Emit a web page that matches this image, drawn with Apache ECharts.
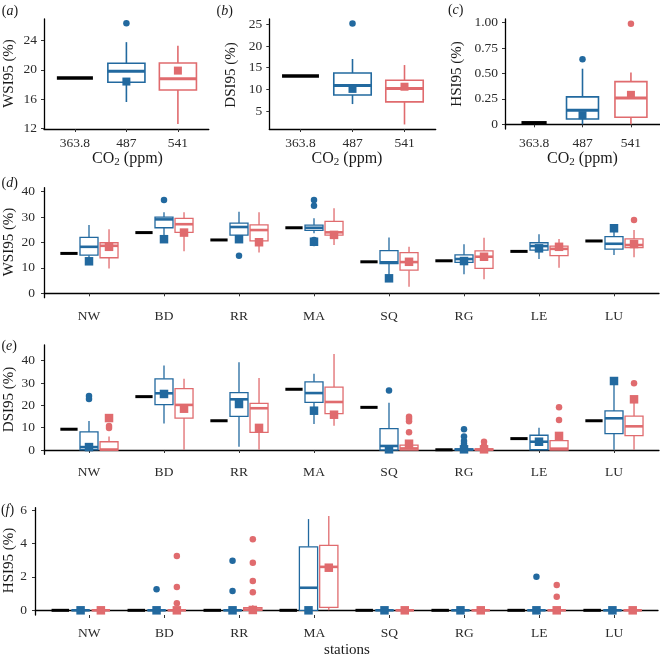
<!DOCTYPE html>
<html><head><meta charset="utf-8">
<script src="https://cdn.jsdelivr.net/npm/echarts@6/dist/echarts.min.js"></script>
<style>html,body{margin:0;padding:0;background:#fff}#c{width:660px;height:658px}</style>
</head><body><div id="c"></div>
<script>
const FONT = 'Liberation Serif';
const BLUE = '#22699f';
const RED = '#e06b6e';
const TXT = '#2b2b2b';

const stations = ['NW','BD','RR','MA','SQ','RG','LE','LU'];
const co2Labels = ['363.8','487','541'];

// ---- Panel (a) WSI95 vs CO2 : box = [lowWhisker, Q1, median, Q3, highWhisker]
const aBase = 18.9;
const aBlueBox = [15.6, 18.3, 19.8, 20.9, 23.8];
const aBlueMean = 18.4;
const aBlueOut = [26.4];
const aRedBox = [12.6, 17.25, 18.8, 20.95, 23.3];
const aRedMean = 19.9;
const aRedOut = [];

// ---- Panel (b) DSI95 vs CO2
const bBase = 13.1;
const bBlueBox = [6.6, 8.7, 10.9, 13.75, 17.0];
const bBlueMean = 10.1;
const bBlueOut = [25.2];
const bRedBox = [1.9, 7.1, 10.2, 12.1, 15.6];
const bRedMean = 10.6;
const bRedOut = [];

// ---- Panel (c) HSI95 vs CO2
const cBase = 0.015;
const cBlueBox = [0, 0.052, 0.138, 0.27, 0.547];
const cBlueMean = 0.09;
const cBlueOut = [0.639];
const cRedBox = [0, 0.07, 0.26, 0.42, 0.51];
const cRedMean = 0.29;
const cRedOut = [0.99];

// ---- Panel (d) WSI95 by station
const dBase = [15.7, 23.9, 21.0, 25.8, 12.4, 12.8, 16.5, 20.6];
const dBlueBox = [[12.5,15.0,18.3,22.0,26.9],[21.5,25.8,29.1,30.0,31.9],[20.5,22.9,26.1,27.6,32.1],[23.6,24.8,25.8,26.8,29.5],
                  [6.0,11.7,12.2,16.8,22.0],[7.5,12.2,13.5,15.1,19.3],[13.5,17.0,18.6,19.9,23.2],[15.1,17.4,19.5,22.3,24.5]];
const dBlueMean = [12.6, 21.3, 21.3, 20.3, 5.9, 12.7, 17.7, 25.6];
const dBlueOut = [[],[36.7],[14.8],[36.7,34.5,21.0,19.8],[],[],[],[]];
const dRedBox = [[9.8,14.0,18.7,19.9,25.2],[16.6,24.0,27.2,29.5,31.9],[16.1,20.6,24.9,26.9,31.9],[19.0,22.9,24.0,28.3,33.5],
                 [2.6,9.1,12.3,16.0,18.3],[5.5,9.8,14.4,16.7,21.9],[10.1,14.8,17.5,18.6,21.4],[14.2,18.0,19.0,21.4,24.9]];
const dRedMean = [18.3, 23.9, 20.1, 23.0, 12.4, 14.4, 18.3, 19.4];
const dRedOut = [[],[],[],[],[],[],[],[28.9]];

// ---- Panel (e) DSI95 by station
const eBase = [9.3, 23.9, 13.1, 27.2, 19.1, 0.1, 5.1, 13.1];
const eBlueBox = [[0,0.1,1.3,8.1,13.0],[11.9,20.3,25.4,31.9,37.8],[1.5,15.1,22.7,25.7,39.3],[11.6,21.3,25.5,30.5,34.2],
                  [0,0,1.8,9.6,21.2],[0,0,0.2,0.5,1.0],[0,0.1,3.7,6.6,10.0],[0.1,7.3,14.2,17.5,30.5]];
const eBlueMean = [1.3, 25.1, 20.6, 17.6, 0.3, 0.3, 3.7, 30.9];
const eBlueOut = [[24.2,22.8],[],[],[],[26.6],[9.3,6.0,4.0,2.8,1.8],[],[]];
const eRedBox = [[0,0,0.2,3.7,6.0],[0.1,14.3,20.2,27.5,31.9],[0.1,7.9,18.7,20.9,32.2],[10.9,16.3,21.5,28.2,43.0],
                 [0,0,0.7,2.2,4.5],[0,0,0.2,0.5,1.0],[0,0,0.6,4.2,8.0],[0.1,6.4,10.6,15.2,23.0]];
const eRedMean = [14.3, 18.5, 9.9, 15.8, 2.8, 0.3, 6.3, 22.7];
const eRedOut = [[10.7,9.9],[],[],[],[14.9,14.0,12.9,7.9],[3.7,1.8],[19.1,13.4],[29.9]];

// ---- Panel (f) HSI95 by station
const fBase = [0, 0, 0, 0, 0, 0, 0, 0];
const fBlueBox = [[0,0,0,0,0],[0,0,0,0,0],[0,0,0,0,0],[0,0,1.35,3.8,5.46],
                  [0,0,0,0,0],[0,0,0,0,0],[0,0,0,0,0],[0,0,0,0,0]];
const fBlueMean = [0, 0, 0, 0, 0, 0, 0, 0];
const fBlueOut = [[],[1.26],[2.97,1.15],[],[],[],[2.01],[]];
const fRedBox = [[0,0,0,0,0],[0,0,0,0,0],[0,0,0.05,0.16,0.3],[0,0.18,2.6,3.89,5.64],
                 [0,0,0,0,0],[0,0,0,0,0],[0,0,0,0,0],[0,0,0,0,0]];
const fRedMean = [0, 0, 0.02, 2.55, 0, 0, 0, 0];
const fRedOut = [[],[3.25,1.39,0.42],[4.25,2.85,1.75,1.08],[],[],[],[1.51,0.81],[]];

// ---------- renderers ----------
function boxRender(width, color, lw, mlw) {
  return function (params, api) {
    const x = api.value(0);
    const lo = api.coord([x, api.value(1)]);
    const q1 = api.coord([x, api.value(2)]);
    const md = api.coord([x, api.value(3)]);
    const q3 = api.coord([x, api.value(4)]);
    const hi = api.coord([x, api.value(5)]);
    const half = api.size([width, 0])[0] / 2;
    const cx = lo[0];
    return { type: 'group', children: [
      { type: 'line', shape: { x1: cx, y1: hi[1], x2: cx, y2: q3[1] }, style: { stroke: color, lineWidth: lw } },
      { type: 'line', shape: { x1: cx, y1: q1[1], x2: cx, y2: lo[1] }, style: { stroke: color, lineWidth: lw } },
      { type: 'rect', shape: { x: cx - half, y: q3[1], width: 2 * half, height: q1[1] - q3[1] }, style: { fill: '#fff', stroke: color, lineWidth: lw } },
      { type: 'line', shape: { x1: cx - half, y1: md[1], x2: cx + half, y2: md[1] }, style: { stroke: color, lineWidth: mlw } }
    ]};
  };
}
function baseRender(width, lw) {
  return function (params, api) {
    const c = api.coord([api.value(0), api.value(1)]);
    const half = api.size([width, 0])[0] / 2;
    return { type: 'line', shape: { x1: c[0] - half, y1: c[1], x2: c[0] + half, y2: c[1] }, style: { stroke: '#000', lineWidth: lw } };
  };
}

function panelSeries(gi, xs, base, blueBox, blueMean, blueOut, redBox, redMean, redOut, opt) {
  const series = [];
  const ax = { xAxisIndex: gi, yAxisIndex: gi, silent: true, animation: false };
  series.push(Object.assign({ type: 'custom', renderItem: baseRender(opt.baseW, opt.baseLw),
    data: base.map((v, i) => [xs.base[i], v]), encode: { x: 0, y: 1 } }, ax));
  series.push(Object.assign({ type: 'custom', renderItem: boxRender(opt.boxW, BLUE, opt.lw, opt.mlw),
    data: blueBox.map((b, i) => [xs.blue[i]].concat(b)), encode: { x: 0, y: [1,2,3,4,5] } }, ax));
  series.push(Object.assign({ type: 'custom', renderItem: boxRender(opt.boxW, RED, opt.lw, opt.mlw),
    data: redBox.map((b, i) => [xs.red[i]].concat(b)), encode: { x: 0, y: [1,2,3,4,5] } }, ax));
  const bo = [], ro = [];
  blueOut.forEach((arr, i) => arr.forEach(v => bo.push([xs.blue[i], v])));
  redOut.forEach((arr, i) => arr.forEach(v => ro.push([xs.red[i], v])));
  series.push(Object.assign({ type: 'scatter', symbol: 'circle', symbolSize: opt.outS, itemStyle: { color: BLUE, opacity: 1 }, data: bo }, ax));
  series.push(Object.assign({ type: 'scatter', symbol: 'circle', symbolSize: opt.outS, itemStyle: { color: RED, opacity: 1 }, data: ro }, ax));
  series.push(Object.assign({ type: 'scatter', symbol: 'rect', symbolSize: opt.meanS, itemStyle: { color: BLUE, opacity: 1 }, data: blueMean.map((v, i) => [xs.blue[i], v]) }, ax));
  series.push(Object.assign({ type: 'scatter', symbol: 'rect', symbolSize: opt.meanS, itemStyle: { color: RED, opacity: 1 }, data: redMean.map((v, i) => [xs.red[i], v]) }, ax));
  return series;
}

const topXs = { base: [1], blue: [2], red: [3] };
const DODGE = 0.267;
const stXs = {
  base: stations.map((s, i) => i + 1 - DODGE),
  blue: stations.map((s, i) => i + 1),
  red: stations.map((s, i) => i + 1 + DODGE)
};

const topOpt = (boxW, baseW) => ({ boxW, baseW, baseLw: 3.5, lw: 1.6, mlw: 3, outS: 6.5, meanS: 8 });
const stOpt = { boxW: 0.24, baseW: 0.23, baseLw: 3, lw: 1.3, mlw: 2.6, outS: 6.5, meanS: 8.5 };

let series = [];
series = series.concat(panelSeries(0, topXs, [aBase], [aBlueBox], [aBlueMean], [aBlueOut], [aRedBox], [aRedMean], [aRedOut], topOpt(0.72, 0.70)));
series = series.concat(panelSeries(1, topXs, [bBase], [bBlueBox], [bBlueMean], [bBlueOut], [bRedBox], [bRedMean], [bRedOut], topOpt(0.72, 0.71)));
series = series.concat(panelSeries(2, topXs, [cBase], [cBlueBox], [cBlueMean], [cBlueOut], [cRedBox], [cRedMean], [cRedOut], topOpt(0.66, 0.52)));
series = series.concat(panelSeries(3, stXs, dBase, dBlueBox, dBlueMean, dBlueOut, dRedBox, dRedMean, dRedOut, stOpt));
series = series.concat(panelSeries(4, stXs, eBase, eBlueBox, eBlueMean, eBlueOut, eRedBox, eRedMean, eRedOut, stOpt));
series = series.concat(panelSeries(5, stXs, fBase, fBlueBox, fBlueMean, fBlueOut, fRedBox, fRedMean, fRedOut, stOpt));

// ---------- layout ----------
const grids = [
  { left: 44, top: 19, width: 164.8, height: 110 },
  { left: 269.3, top: 19, width: 166.4, height: 110 },
  { left: 505, top: 19, width: 155, height: 110 },
  { left: 44, top: 187.7, width: 615, height: 110 },
  { left: 44, top: 345, width: 615, height: 109.3 },
  { left: 35, top: 507.7, width: 623, height: 107.3 },
  { left: 51.8, top: 507.7, width: 600, height: 107.3 }
];
const yRanges = [[11.9, 26.97], [0.85, 26.22], [-0.046, 1.036], [-1.73, 41.57], [-1.93, 47.03], [-0.28, 6.14]];
const yTicks = [[12,16,20,24], [5,10,15,20,25], [0,0.25,0.5,0.75,1], [0,10,20,30,40], [0,10,20,30,40], [0,2,4,6]];
const yLabelMargin = [7, 7, 7, 9, 9, 8];
const xLabelMargin = [7, 7, 7, 12, 11, 11];

const axisLine = { show: true, lineStyle: { color: '#000', width: 1.3 } };
const tickStyle = { show: true, length: 3, lineStyle: { color: '#333', width: 1 } };
const lblFont = { fontFamily: FONT, fontSize: 13.5, color: TXT };

const xAxes = [], yAxes = [];
for (let g = 0; g < 6; g++) {
  const top = g < 3;
  const cats = top ? co2Labels : stations;
  const vals = cats.map((c, i) => i + 1);
  const hideXLabels = (g === 5);
  xAxes.push({ type: 'value', gridIndex: g, min: 0.4, max: top ? 3.6 : 8.6,
    axisLine, splitLine: { show: false },
    axisTick: Object.assign({}, tickStyle, { show: !hideXLabels, customValues: vals }),
    axisLabel: Object.assign({ show: !hideXLabels, margin: xLabelMargin[g], customValues: vals,
      formatter: v => cats[Math.round(v) - 1] }, lblFont) });
  yAxes.push({ type: 'value', gridIndex: g, min: yRanges[g][0], max: yRanges[g][1],
    axisLine, splitLine: { show: false },
    axisTick: Object.assign({}, tickStyle, { customValues: yTicks[g] }),
    axisLabel: Object.assign({ margin: yLabelMargin[g], customValues: yTicks[g],
      formatter: v => (g === 2 ? (v === 0 ? '0' : v.toFixed(2)) : String(v)) }, lblFont) });
}
// station labels for panel (f)
xAxes.push({ type: 'category', gridIndex: 6, data: stations, boundaryGap: true,
  axisLine: { show: false }, splitLine: { show: false },
  axisTick: Object.assign({}, tickStyle, { alignWithLabel: true }),
  axisLabel: Object.assign({ margin: xLabelMargin[5], interval: 0 }, lblFont) });
yAxes.push({ type: 'value', gridIndex: 6, show: false, min: 0, max: 1 });

// ---------- text ----------
const titleFont = { fontFamily: FONT, fontSize: 15, fill: '#1a1a1a' };
function ytitle(text, x, y) {
  return { type: 'text', x, y, rotation: Math.PI / 2, silent: true,
    style: Object.assign({ text, align: 'center', verticalAlign: 'middle', textAlign: 'center', textVerticalAlign: 'middle' }, titleFont) };
}
function xtitleCO2(x, y) {
  return { type: 'text', x, y, silent: true,
    style: { text: '{n|CO}{s|2}{n| (ppm)}', align: 'center', verticalAlign: 'middle', textAlign: 'center', textVerticalAlign: 'middle',
      rich: { n: { fontFamily: FONT, fontSize: 16, fill: '#1a1a1a', lineHeight: 18, verticalAlign: 'middle' },
              s: { fontFamily: FONT, fontSize: 11, fill: '#1a1a1a', lineHeight: 11, verticalAlign: 'bottom' } } } };
}
function plabel(letter, x, y) {
  return { type: 'text', x, y, silent: true,
    style: { text: '{n|(}{i|' + letter + '}{n|)}', align: 'center', verticalAlign: 'middle', textAlign: 'center', textVerticalAlign: 'middle',
      rich: { n: { fontFamily: FONT, fontSize: 14, fill: '#1a1a1a' }, i: { fontFamily: FONT, fontSize: 14, fontStyle: 'italic', fill: '#1a1a1a' } } } };
}
const graphics = [
  plabel('a', 10, 11), plabel('b', 224.7, 11), plabel('c', 455.7, 10),
  plabel('d', 9.7, 183.3), plabel('e', 9.2, 346.7), plabel('f', 7.5, 510),
  ytitle('WSI95 (%)', 9, 73.5), ytitle('DSI95 (%)', 230.7, 75), ytitle('HSI95 (%)', 456.7, 74),
  ytitle('WSI95 (%)', 9.3, 242), ytitle('DSI95 (%)', 9.3, 399.5), ytitle('HSI95 (%)', 9.3, 560.5),
  xtitleCO2(127.5, 158.5), xtitleCO2(347, 158.5), xtitleCO2(582.5, 158.5),
  { type: 'text', x: 347, y: 650, silent: true,
    style: Object.assign({ text: 'stations', align: 'center', verticalAlign: 'middle', textAlign: 'center', textVerticalAlign: 'middle' }, titleFont) }
];

const chart = echarts.init(document.getElementById('c'), null, { renderer: 'canvas' });
chart.setOption({
  animation: false,
  backgroundColor: '#fff',
  grid: grids,
  xAxis: xAxes,
  yAxis: yAxes,
  series,
  graphic: graphics
});
</script></body></html>
